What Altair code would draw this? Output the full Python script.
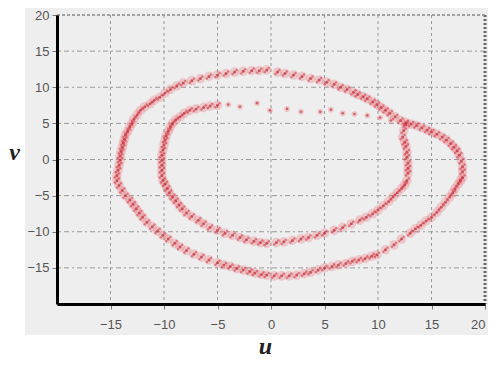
import altair as alt
import pandas as pd

# Outer loop of the trajectory (u, v)
u_outer = [17.9, 17.9, 17.9, 17.8, 17.6, 17.4, 17.1, 16.8, 16.4, 16.0, 15.5, 15.0, 14.6, 14.1, 13.6, 13.1,
           12.6, 12.1, 11.6, 11.1, 10.7, 10.3, 9.9, 9.5, 9.0, 8.6, 8.1, 7.7, 7.1, 6.5, 5.9, 5.2, 4.5, 3.7,
           2.9, 2.1, 1.3, 0.6, -0.4, -1.1, -1.8, -2.6, -3.4, -4.2, -5.0, -5.8, -6.6, -7.4, -8.2, -8.8,
           -9.4, -9.9, -10.4, -10.9, -11.3, -11.8, -12.2, -12.5, -12.8, -13.0, -13.2, -13.4, -13.6, -13.7,
           -13.8, -13.9, -14.0, -14.1, -14.1, -14.2, -14.3, -14.4, -14.4, -14.2, -13.9, -13.6, -13.2, -12.9,
           -12.6, -12.3, -12.0, -11.6, -11.1, -10.6, -10.1, -9.6, -9.0, -8.5, -7.9, -7.2, -6.5, -5.8, -5.0,
           -4.4, -3.8, -3.2, -2.6, -2.0, -1.5, -0.9, -0.4, 0.3, 1.0, 1.7, 2.4, 3.1, 3.7, 4.4, 5.0, 5.7, 6.3,
           7.0, 7.6, 8.2, 8.8, 9.4, 9.9, 10.7, 11.5, 12.2, 13.0, 13.5, 14.0, 14.5, 15.0, 15.5, 15.9, 16.3,
           16.7, 17.0, 17.2, 17.5, 17.7]
v_outer = [-2.5, -1.7, -1.0, -0.2, 0.6, 1.2, 1.7, 2.2, 2.7, 3.1, 3.5, 3.8, 4.1, 4.4, 4.7, 4.9,
           5.1, 5.4, 5.9, 6.4, 6.8, 7.2, 7.6, 8.0, 8.4, 8.7, 9.0, 9.3, 9.7, 10.0, 10.4, 10.7, 11.0, 11.2,
           11.5, 11.7, 11.9, 12.1, 12.4, 12.3, 12.3, 12.2, 12.1, 11.9, 11.7, 11.5, 11.2, 10.9, 10.6, 10.2,
           9.7, 9.2, 8.6, 8.2, 7.7, 7.3, 6.8, 6.2, 5.6, 5.0, 4.5, 3.9, 3.4, 2.8,
           2.3, 1.7, 1.1, 0.5, -0.1, -0.8, -1.5, -2.2, -2.9, -3.6, -4.3, -5.0, -5.6, -6.2,
           -6.8, -7.4, -8.0, -8.7, -9.3, -9.9, -10.5, -11.0, -11.6, -12.1, -12.6, -13.1, -13.5, -13.9, -14.3,
           -14.6, -14.8, -15.1, -15.3, -15.5, -15.7, -15.9, -16.0, -16.1, -16.1, -16.1, -16.0, -15.8, -15.6, -15.3, -15.0, -14.8, -14.6,
           -14.4, -14.1, -13.9, -13.7, -13.4, -13.2, -12.5, -11.8, -11.0, -10.2, -9.6, -9.1, -8.5, -8.0, -7.3, -6.6, -5.9,
           -5.2, -4.6, -4.0, -3.4, -2.9]

# Inner loop of the trajectory (u, v)
u_inner = [12.6, 12.4, 12.3, 12.5, 12.6, 12.7, 12.7, 12.8, 12.8, 12.8, 12.7, 12.5, 12.2, 11.8, 11.4, 11.0,
           10.5, 10.0, 9.5, 8.9, 8.3, 7.5, 6.7, 5.9, 5.0, 4.3, 3.5, 2.8, 2.0, 1.2, 0.5, -0.4, -1.0, -1.6,
           -2.3, -2.9, -3.6, -4.3, -5.0, -5.7, -6.3, -6.8, -7.4, -7.9, -8.3, -8.6, -8.9, -9.2, -9.5, -9.7,
           -9.9, -10.1, -10.2, -10.2, -10.2, -10.2, -10.2, -10.1, -10.0, -9.9, -9.8, -9.6, -9.4, -9.2, -8.9,
           -8.5, -8.1, -7.6, -7.0, -6.3, -5.7, -5.0]
v_inner = [4.8, 4.0, 3.1, 2.4, 1.8, 1.0, 0.3, -0.5, -1.2, -1.9, -2.9, -3.5, -4.0, -4.6, -5.2, -5.8,
           -6.4, -7.0, -7.5, -8.0, -8.4, -8.9, -9.4, -9.8, -10.2, -10.5, -10.8, -11.0, -11.2, -11.4, -11.5, -11.6, -11.5, -11.3,
           -11.1, -10.8, -10.5, -10.2, -9.8, -9.4, -8.9, -8.4, -7.9, -7.4, -6.8, -6.3, -5.7, -5.2, -4.6, -4.0,
           -3.4, -2.9, -2.2, -1.5, -0.8, -0.1, 0.6, 1.3, 2.0, 2.7, 3.3, 3.9, 4.5, 5.0, 5.5,
           5.9, 6.4, 6.8, 7.0, 7.2, 7.4, 7.5]

# Sparse top part of the inner loop
u_sparse = [-4.0, -2.9, -1.3, -0.1, 1.5, 2.8, 4.6, 5.6, 6.7, 7.8, 9.0, 10.2, 11.2]
v_sparse = [7.6, 7.3, 7.8, 6.8, 7.0, 6.6, 6.6, 6.9, 6.4, 6.3, 6.1, 5.8, 5.4]

x_ticks = [-15, -10, -5, 0, 5, 10, 15, 20]
y_ticks = [-15, -10, -5, 0, 5, 10, 15, 20]
grid_u = [-15, -10, -5, 0, 5, 10, 15]
grid_v = [-15, -10, -5, 0, 5, 10, 15]

pts = pd.DataFrame({"u": u_outer + u_inner, "v": v_outer + v_inner})
sparse = pd.DataFrame({"u": u_sparse, "v": v_sparse})
gu = pd.DataFrame({"u": grid_u})
gv = pd.DataFrame({"v": grid_v})
edge = pd.DataFrame({"u": [20], "v": [20]})

xs = alt.Scale(domain=[-20, 20], nice=False, zero=False)
ys = alt.Scale(domain=[-20, 20], nice=False, zero=False)

title_font = "Liberation Serif"
common = dict(zindex=2, grid=False, domainColor="#000000", domainWidth=3, tickColor="#777777",
              tickSize=5, labelColor="#555555", labelFontSize=13, labelFont="Liberation Sans",
              titleFont=title_font, titleFontSize=24, titleFontStyle="italic",
              titleFontWeight="bold", titleColor="#222222")
xa = alt.Axis(values=x_ticks, title="u", titleY=42, titleX=208, titleBaseline="middle",
              labelPadding=9, **common)
ya = alt.Axis(values=y_ticks, title="v", titleAngle=0, titleX=-43, titleY=137,
              titleAlign="center", titleBaseline="middle", labelPadding=3, **common)

X = lambda: alt.X("u:Q", scale=xs, axis=xa)
Y = lambda: alt.Y("v:Q", scale=ys, axis=ya)

bg = alt.Chart(pd.DataFrame({"a": [0]})).mark_rect(color="#eeeeee").encode(
    x=alt.value(-32), x2=alt.value(431), y=alt.value(-7), y2=alt.value(320)
)

vgrid = alt.Chart(gu).mark_rule(color="#9a9a9a", strokeDash=[3, 3], strokeWidth=1).encode(x=X())
hgrid = alt.Chart(gv).mark_rule(color="#9a9a9a", strokeDash=[5, 3, 2, 3], strokeWidth=1).encode(y=Y())
right_edge = alt.Chart(edge).mark_rule(color="#666666", strokeDash=[2, 2], strokeWidth=3).encode(x=X())
top_edge = alt.Chart(edge).mark_rule(color="#888888", strokeDash=[3, 2], strokeWidth=1.5).encode(y=Y())

halo = alt.Chart(pts).mark_circle(color="#e8707a", opacity=0.3, size=95).encode(x=X(), y=Y())
dots = alt.Chart(pts).mark_circle(color="#c0202a", opacity=0.7, size=9).encode(x=X(), y=Y())
dots2 = alt.Chart(pts).mark_circle(color="#d0303a", opacity=0.55, size=6, xOffset=2, yOffset=-2).encode(x=X(), y=Y())
dots3 = alt.Chart(pts).mark_circle(color="#d0303a", opacity=0.55, size=6, xOffset=-2, yOffset=2).encode(x=X(), y=Y())
sp_halo = alt.Chart(sparse).mark_circle(color="#e8707a", opacity=0.3, size=35).encode(x=X(), y=Y())
sp_dots = alt.Chart(sparse).mark_circle(color="#c0202a", opacity=0.6, size=7).encode(x=X(), y=Y())

chart = alt.layer(bg, vgrid, hgrid, right_edge, top_edge, halo, sp_halo, dots, dots2, dots3, sp_dots).properties(
    width=428, height=289,
    autosize=alt.AutoSizeParams(type="none"),
    padding={"left": 57, "top": 15, "right": 14, "bottom": 61},
    background="white",
).configure_view(stroke=None)

chart.save("out.html", embed_options={"renderer": "svg", "actions": False})
